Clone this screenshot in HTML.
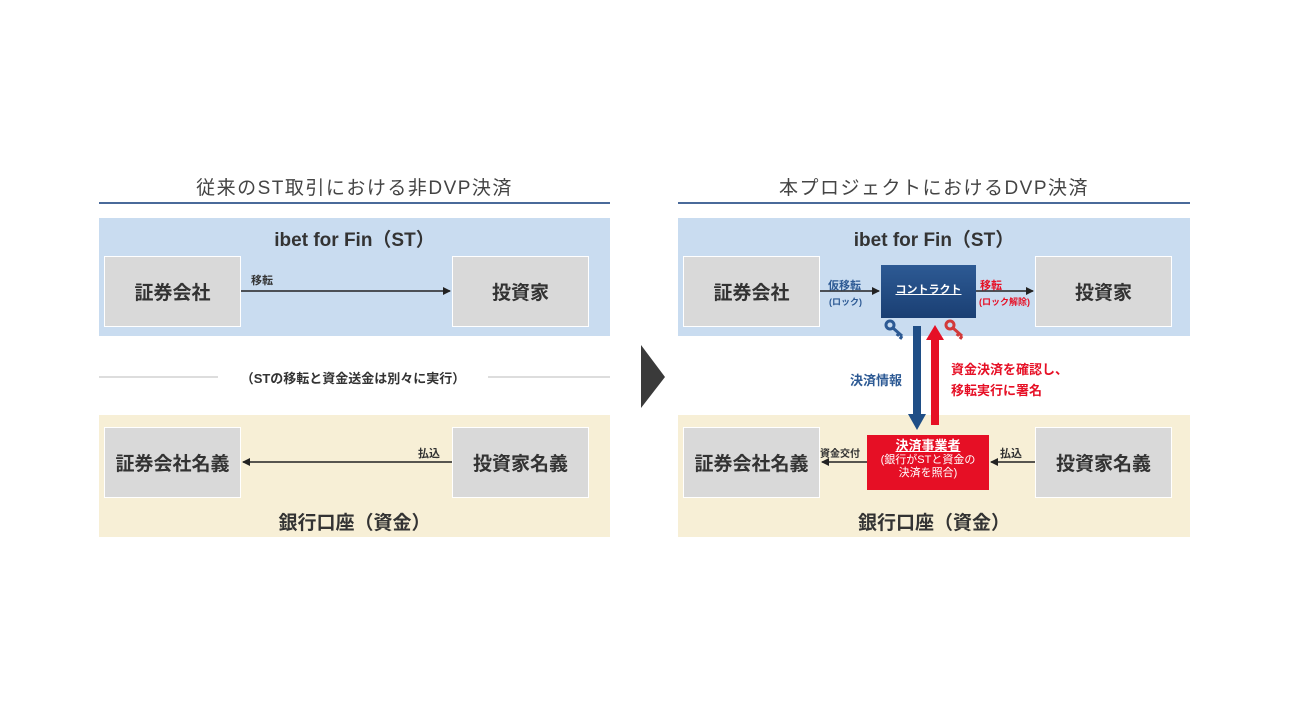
<!DOCTYPE html><html><head><meta charset="utf-8"><style>
body{margin:0;width:1293px;height:728px;background:#fff;position:relative;overflow:hidden;font-family:"Liberation Sans","Noto Sans CJK JP",sans-serif;color:#333}
div{position:absolute;box-sizing:border-box}
.t{font-size:19px;color:#444;text-align:center;letter-spacing:1.5px}
.band{background:#c9dcf0}.bei{background:#f7efd6}
.box{background:#d9d9d9;border:1.5px solid #fff;font-weight:bold;font-size:19px;display:flex;align-items:center;justify-content:center;color:#333}
.h{font-weight:bold;font-size:19px;text-align:center;color:#333}
.s{font-size:11px;font-weight:bold;color:#333;white-space:nowrap}
svg{position:absolute;left:0;top:0}
</style></head><body>
<div class="t" style="left:99px;width:511px;top:173px">従来のST取引における非DVP決済</div>
<div style="left:99px;width:511px;top:202px;height:2px;background:#4a6a9a"></div>
<div class="t" style="left:678px;width:512px;top:173px">本プロジェクトにおけるDVP決済</div>
<div style="left:678px;width:512px;top:202px;height:2px;background:#4a6a9a"></div>

<div class="band" style="left:99px;width:511px;top:218px;height:118px"></div>
<div class="band" style="left:678px;width:512px;top:218px;height:118px"></div>
<div class="bei" style="left:99px;width:511px;top:415px;height:122px"></div>
<div class="bei" style="left:678px;width:512px;top:415px;height:122px"></div>

<div class="h" style="left:99px;width:511px;top:225px">ibet for Fin（ST）</div>
<div class="h" style="left:678px;width:512px;top:225px">ibet for Fin（ST）</div>
<div class="h" style="left:99px;width:511px;top:508px">銀行口座（資金）</div>
<div class="h" style="left:678px;width:512px;top:508px">銀行口座（資金）</div>

<div class="box" style="left:104px;top:256px;width:137px;height:71px">証券会社</div>
<div class="box" style="left:452px;top:256px;width:137px;height:71px">投資家</div>
<div class="box" style="left:104px;top:427px;width:137px;height:71px">証券会社名義</div>
<div class="box" style="left:452px;top:427px;width:137px;height:71px">投資家名義</div>
<div class="box" style="left:683px;top:256px;width:137px;height:71px">証券会社</div>
<div class="box" style="left:1035px;top:256px;width:137px;height:71px">投資家</div>
<div class="box" style="left:683px;top:427px;width:137px;height:71px">証券会社名義</div>
<div class="box" style="left:1035px;top:427px;width:137px;height:71px">投資家名義</div>

<div style="left:881px;top:265px;width:95px;height:53px;background:linear-gradient(#2d5a94,#1a3f73);color:#fff;font-size:11px;font-weight:bold;text-align:center;line-height:50px;text-decoration:underline">コントラクト</div>
<div style="left:867px;top:435px;width:122px;height:55px;background:#e60f25;color:#fff;text-align:center;font-size:11px;line-height:13px;padding-top:3px"><b style="font-size:13px;text-decoration:underline;line-height:16px">決済事業者</b><br>(銀行がSTと資金の<br>決済を照合)</div>

<svg width="1293" height="728">
<defs><marker id="a" markerWidth="8" markerHeight="8" refX="7" refY="4" orient="auto" markerUnits="userSpaceOnUse"><path d="M0,0L8,4L0,8z" fill="#222"/></marker></defs>
<line x1="241" y1="291" x2="450" y2="291" stroke="#222" stroke-width="1.5" marker-end="url(#a)"/>
<line x1="452" y1="462" x2="243" y2="462" stroke="#222" stroke-width="1.5" marker-end="url(#a)"/>
<line x1="99" y1="377" x2="218" y2="377" stroke="#bbb" stroke-width="1"/>
<line x1="488" y1="377" x2="610" y2="377" stroke="#bbb" stroke-width="1"/>
<polygon points="641,345 665,377 641,408" fill="#3a3a3a"/>
<line x1="820" y1="291" x2="879" y2="291" stroke="#222" stroke-width="1.5" marker-end="url(#a)"/>
<line x1="976" y1="291" x2="1033" y2="291" stroke="#222" stroke-width="1.5" marker-end="url(#a)"/>
<line x1="867" y1="462" x2="822" y2="462" stroke="#222" stroke-width="1.5" marker-end="url(#a)"/>
<line x1="1035" y1="462" x2="991" y2="462" stroke="#222" stroke-width="1.5" marker-end="url(#a)"/>
<rect x="913" y="326" width="8" height="90" fill="#1f4e86"/><polygon points="908,414 926,414 917,430" fill="#1f4e86"/>
<rect x="931" y="338" width="8" height="87" fill="#e60f25"/><polygon points="926,340 944,340 935,325" fill="#e60f25"/>
<g stroke="#2d5a94" stroke-width="3" fill="none"><circle cx="890" cy="325" r="4"/><path d="M893,328L902,336M899,333L897,336M902,336L900,339"/></g>
<g stroke="#d23a3a" stroke-width="3" fill="none"><circle cx="950" cy="325" r="4"/><path d="M953,328L962,336M959,333L957,336M962,336L960,339"/></g>
</svg>
<div class="s" style="left:251px;top:272px">移転</div>
<div class="s" style="left:418px;top:445px">払込</div>
<div style="left:218px;width:270px;top:368px;text-align:center;font-size:13px;font-weight:bold;color:#333">（STの移転と資金送金は別々に実行）</div>
<div class="s" style="left:828px;top:277px;color:#2d5a94">仮移転</div>
<div class="s" style="left:829px;top:295px;color:#2d5a94;font-size:9px">(ロック)</div>
<div class="s" style="left:980px;top:277px;color:#e60f25">移転</div>
<div class="s" style="left:979px;top:295px;color:#e60f25;font-size:9px">(ロック解除)</div>
<div class="s" style="left:820px;top:445px;font-size:10px">資金交付</div>
<div class="s" style="left:1000px;top:445px">払込</div>
<div class="s" style="left:850px;top:370px;font-size:13px;color:#2d5a94">決済情報</div>
<div class="s" style="left:951px;top:359px;font-size:13px;color:#e60f25;line-height:21px">資金決済を確認し、<br>移転実行に署名</div>
</body></html>
